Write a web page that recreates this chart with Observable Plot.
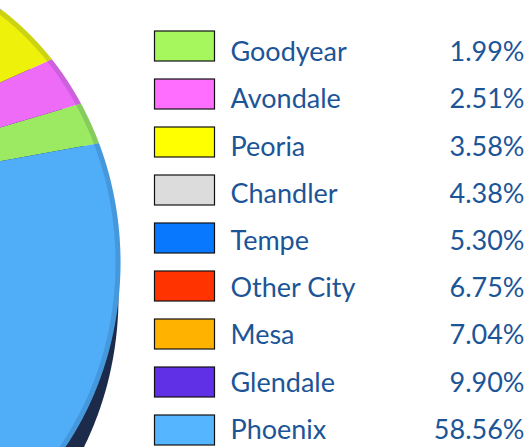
<!DOCTYPE html>
<html>
<head>
<meta charset="utf-8">
<script src="https://cdn.jsdelivr.net/npm/d3@7"></script>
<script src="https://cdn.jsdelivr.net/npm/@observablehq/plot@0.6"></script>
<style>
  html, body { margin: 0; padding: 0; background: #fff; }
  #chart svg { display: block; }
</style>
</head>
<body>
<div id="chart"></div>
<script>
// ---- data ----
const cities = ["Goodyear", "Avondale", "Peoria", "Chandler", "Tempe", "Other City", "Mesa", "Glendale", "Phoenix"];
const shares = [1.99, 2.51, 3.58, 4.38, 5.30, 6.75, 7.04, 9.90, 58.56];
const shareLabels = ["1.99%", "2.51%", "3.58%", "4.38%", "5.30%", "6.75%", "7.04%", "9.90%", "58.56%"];
const colors = ["#a6f75e", "#ff6eff", "#ffff00", "#dcdcdc", "#0878ff", "#ff3300", "#ffb300", "#6030e6", "#55b5ff"];

// ---- layout (3D pie seen in perspective, mostly outside the frame) ----
const W = 528, H = 447;
const face = {cx: -150, cy: 262, rx: 270, ry: 305};
const side = {cx: -147, cy: 296, rx: 265, ry: 305};
const apex = [-300, 215];
const s = 0.2, alpha = 165 * Math.PI / 180, psi0 = 23 * Math.PI / 180;
const h = (t) => Math.atan2(Math.sin(t) * Math.sqrt(1 - s * s), Math.cos(t) + s);
const hinv = (u) => Math.atan2(Math.sin(u) * Math.sqrt(1 - s * s), Math.cos(u) - s);
const beta = -hinv(psi0 - alpha);
const psiOf = (theta) => alpha + h(theta - beta);
const ellPt = (e, psi) => [e.cx + e.rx * Math.cos(psi), e.cy - e.ry * Math.sin(psi)];

const total = d3.sum(shares);
let acc = 0;
const slicePts = [];
cities.forEach((c, i) => {
  const t0 = acc / total * 2 * Math.PI;
  acc += shares[i];
  const t1 = acc / total * 2 * Math.PI;
  const n = Math.max(4, Math.ceil((t1 - t0) / (0.2 * Math.PI / 180)));
  slicePts.push({city: c, x: apex[0], y: apex[1]});
  for (let k = 0; k <= n; k++) {
    const [x, y] = ellPt(face, psiOf(t0 + (t1 - t0) * k / n));
    slicePts.push({city: c, x, y});
  }
});

const ring = (e) => d3.range(0, 721).map(k => {
  const [x, y] = ellPt(e, k / 720 * 2 * Math.PI);
  return {x, y};
});
const sidePts = ring(side);
const facePts = ring(face);
const rimPts = ring({cx: face.cx, cy: face.cy, rx: face.rx - 2.5, ry: face.ry - 2.5});

const rowText0 = 52, rowTextStep = 47.2, rowSw0 = 46, rowSwStep = 48;
const legend = cities.map((c, i) => ({
  city: c, label: shareLabels[i],
  ty: rowText0 + i * rowTextStep,
  sy1: rowSw0 + i * rowSwStep - 15,
  sy2: rowSw0 + i * rowSwStep + 15
}));

const font = "Lato, 'Open Sans', sans-serif";
const txt = "#1c5597";

const chart = Plot.plot({
  width: W, height: H,
  margin: 0,
  x: {domain: [0, W], range: [0, W], axis: null},
  y: {domain: [0, H], range: [0, H], axis: null},
  color: {domain: cities, range: colors},
  marks: [
    Plot.line(sidePts, {x: "x", y: "y", fill: "#1c2b4a", stroke: "none", curve: "linear-closed"}),
    Plot.line(slicePts, {x: "x", y: "y", z: "city", fill: "city", stroke: "none", curve: "linear-closed"}),
    Plot.line(facePts, {x: "x", y: "y", fill: "#1040a0", fillOpacity: 0.07, stroke: "none", curve: "linear-closed"}),
    Plot.line(rimPts, {x: "x", y: "y", stroke: "#0b2040", strokeOpacity: 0.15, strokeWidth: 5, fill: "none", curve: "linear-closed"}),
    Plot.rect(legend, {x1: 154.5, x2: 214.5, y1: "sy1", y2: "sy2", fill: "city", stroke: "#111", strokeWidth: 1.2}),
    Plot.text(legend, {x: 230, y: "ty", text: "city", textAnchor: "start", fontSize: 27, fill: txt, fontFamily: font}),
    Plot.text(legend, {x: 524, y: "ty", text: "label", textAnchor: "end", fontSize: 27, fill: txt, fontFamily: font})
  ]
});
document.getElementById("chart").appendChild(chart);
</script>
</body>
</html>
